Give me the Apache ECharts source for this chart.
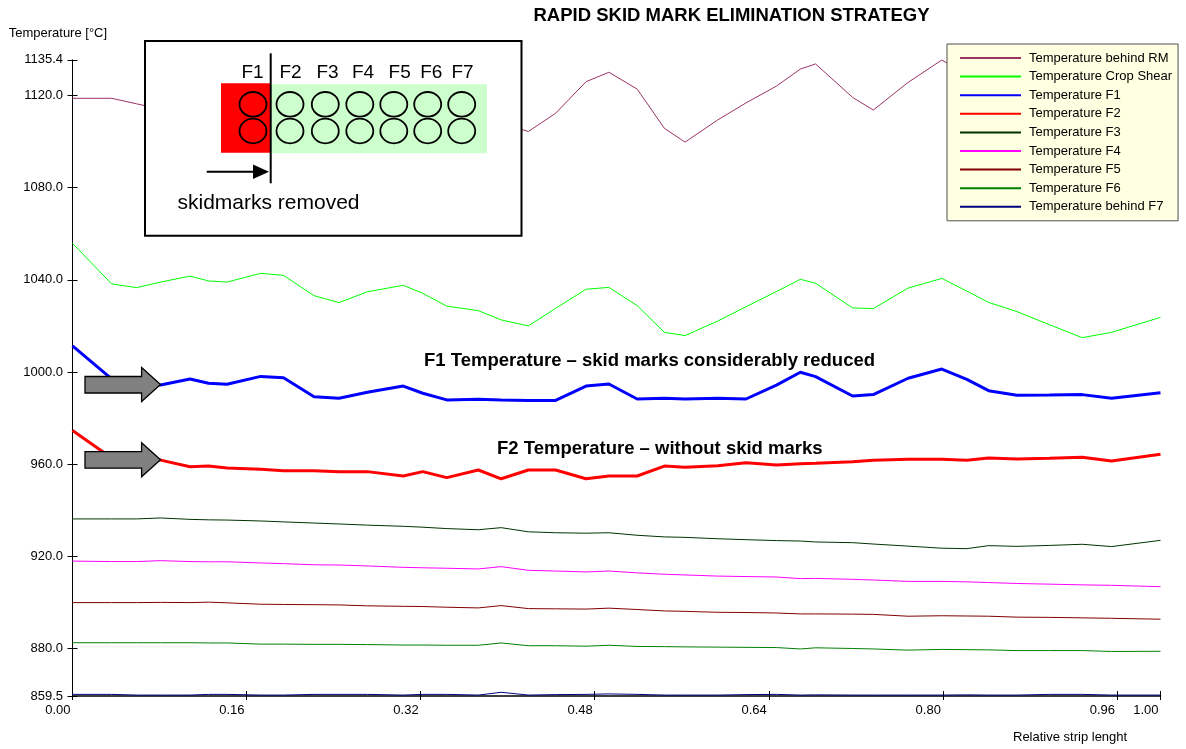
<!DOCTYPE html>
<html>
<head>
<meta charset="utf-8">
<script src="https://cdn.jsdelivr.net/npm/echarts@6/dist/echarts.min.js"></script>
<style>
  html, body { margin: 0; padding: 0; background: #ffffff; }
  #chart { width: 1186px; height: 749px; }
</style>
</head>
<body>
<div id="chart"></div>
<script>
// Relative position along the strip for every measurement sample
const stripPos = [0.000, 0.036, 0.059, 0.081, 0.108, 0.125, 0.142, 0.173, 0.194, 0.222,
                  0.245, 0.271, 0.304, 0.322, 0.344, 0.373, 0.394, 0.419, 0.444, 0.472,
                  0.493, 0.519, 0.544, 0.563, 0.593, 0.619, 0.647, 0.669, 0.683, 0.717,
                  0.736, 0.768, 0.799, 0.822, 0.842, 0.868, 0.898, 0.928, 0.955, 1.000];

// Temperatures in °C at each sample
const tempBehindRM = [1118.7, 1118.7, 1116.3, 1114.0, 1112.5, 1115.0, 1118.0, 1121.0, 1119.0, 1114.0,
                      1110.0, 1113.0, 1117.0, 1115.0, 1110.0, 1106.0, 1108.0, 1104.3, 1112.2, 1125.9,
                      1130.0, 1122.7, 1105.7, 1099.7, 1109.3, 1116.7, 1124.0, 1131.4, 1133.6, 1119.1,
                      1113.6, 1125.6, 1135.3, 1129.0, 1124.0, 1118.0, 1126.0, 1121.0, 1116.0, 1123.0];
const tempCropShear = [1055.8, 1038.2, 1036.6, 1039.0, 1041.6, 1039.5, 1039.0, 1042.8, 1041.9, 1033.1,
                       1030.1, 1034.8, 1037.6, 1034.1, 1028.6, 1026.6, 1022.6, 1020.0, 1027.6, 1035.9,
                       1036.7, 1028.8, 1017.2, 1015.8, 1022.1, 1028.3, 1034.9, 1040.2, 1038.5, 1027.8,
                       1027.5, 1036.4, 1040.6, 1035.1, 1030.2, 1026.2, 1020.5, 1014.9, 1017.2, 1023.7];
const tempF1 = [1011.3, 997.0, 995.2, 994.4, 997.0, 995.1, 994.7, 998.1, 997.5, 989.3,
                988.6, 991.2, 993.9, 990.8, 987.9, 988.2, 987.9, 987.7, 987.7, 993.9,
                994.8, 988.3, 988.6, 988.3, 988.6, 988.3, 994.3, 999.9, 998.0, 989.6,
                990.2, 997.3, 1001.3, 996.8, 991.9, 989.9, 990.0, 990.2, 988.6, 991.0];
const tempF2 = [974.6, 962.7, 962.3, 961.8, 958.9, 959.2, 958.4, 957.8, 957.2, 957.2,
                956.8, 956.8, 954.9, 956.8, 954.2, 957.5, 953.7, 957.5, 957.5, 953.7,
                954.9, 954.9, 959.2, 958.7, 959.4, 960.7, 959.7, 960.2, 960.4, 961.1,
                961.7, 962.2, 962.2, 961.7, 962.7, 962.3, 962.6, 963.0, 961.4, 964.3];
const tempF3 = [936.3, 936.3, 936.3, 936.7, 936.1, 935.9, 935.8, 935.4, 935.0, 934.5,
                934.1, 933.6, 933.1, 932.7, 932.1, 931.6, 932.5, 930.7, 930.3, 930.1,
                930.3, 929.2, 928.5, 928.3, 927.7, 927.3, 926.9, 926.7, 926.3, 926.0,
                925.4, 924.5, 923.6, 923.4, 924.7, 924.4, 924.8, 925.3, 924.3, 927.0];
const tempF4 = [918.0, 917.8, 917.8, 918.2, 917.8, 917.7, 917.7, 917.2, 916.9, 916.4,
                916.3, 915.9, 915.3, 915.1, 914.9, 914.6, 915.6, 914.0, 913.7, 913.3,
                913.7, 912.9, 912.3, 912.0, 911.5, 911.3, 911.1, 910.4, 910.5, 910.1,
                909.8, 909.2, 909.2, 909.0, 908.7, 908.3, 908.0, 907.7, 907.5, 906.9];
const tempF5 = [900.0, 900.0, 900.0, 900.1, 900.0, 900.2, 899.9, 899.3, 899.2, 899.1,
                899.0, 898.6, 898.4, 898.3, 898.0, 897.7, 898.7, 897.4, 897.3, 897.2,
                897.6, 897.0, 896.4, 896.2, 895.8, 895.7, 895.5, 895.1, 895.1, 895.0,
                894.9, 894.1, 894.3, 894.2, 894.1, 893.7, 893.6, 893.4, 893.2, 892.8];
const tempF6 = [882.6, 882.6, 882.6, 882.6, 882.6, 882.5, 882.5, 882.0, 882.0, 881.9,
                881.9, 881.8, 881.6, 881.6, 881.5, 881.5, 882.5, 881.3, 881.3, 881.1,
                881.5, 881.0, 880.9, 880.8, 880.7, 880.6, 880.5, 879.9, 880.4, 880.1,
                879.9, 879.4, 879.7, 879.6, 879.5, 879.2, 879.2, 879.2, 878.8, 878.9];
const tempBehindF7 = [860.2, 860.2, 859.9, 859.9, 859.9, 860.2, 860.2, 859.9, 859.9, 860.2,
                      860.2, 860.2, 859.9, 860.2, 860.2, 859.9, 861.1, 859.9, 860.1, 860.2,
                      860.4, 860.2, 859.9, 859.9, 859.9, 860.1, 860.2, 859.9, 860.0, 859.9,
                      859.9, 859.9, 859.9, 860.0, 859.9, 859.9, 860.2, 860.2, 859.9, 859.9];

// Axis ticks
const xTicks = [0.00, 0.16, 0.32, 0.48, 0.64, 0.80, 0.96, 1.00];
const yTicks = [859.5, 880.0, 920.0, 960.0, 1000.0, 1040.0, 1080.0, 1120.0, 1135.4];
const yMin = 859.5, yMax = 1135.4;

// Mill stands shown in the schematic
const standNames = ['F1', 'F2', 'F3', 'F4', 'F5', 'F6', 'F7'];

const FONT = '"Liberation Sans", Arial, Helvetica, sans-serif';

const seriesDefs = [
  { name: 'Temperature behind RM',  data: tempBehindRM,  color: '#993366', width: 1 },
  { name: 'Temperature Crop Shear', data: tempCropShear, color: '#00FF00', width: 1 },
  { name: 'Temperature F1',         data: tempF1,        color: '#0000FF', width: 3 },
  { name: 'Temperature F2',         data: tempF2,        color: '#FF0000', width: 3 },
  { name: 'Temperature F3',         data: tempF3,        color: '#003300', width: 1 },
  { name: 'Temperature F4',         data: tempF4,        color: '#FF00FF', width: 1 },
  { name: 'Temperature F5',         data: tempF5,        color: '#800000', width: 1 },
  { name: 'Temperature F6',         data: tempF6,        color: '#008000', width: 1 },
  { name: 'Temperature behind F7',  data: tempBehindF7,  color: '#000080', width: 1 }
];

const series = seriesDefs.map(d => ({
  name: d.name,
  type: 'line',
  xAxisIndex: 0,
  yAxisIndex: 0,
  data: stripPos.map((x, i) => [x, d.data[i]]),
  showSymbol: false,
  symbol: 'none',
  smooth: false,
  silent: true,
  color: d.color,
  lineStyle: { color: d.color, width: d.width },
  itemStyle: { color: d.color },
  z: d.width > 1 ? 3 : 2
}));

const tickLine = { color: '#000', width: 1 };

function makeXAxis(primary) {
  return {
    type: 'value',
    min: 0, max: 1,
    position: 'bottom',
    axisLine: { show: primary, onZero: false, lineStyle: { color: '#000', width: 1.5 } },
    axisTick: { show: true, inside: !primary, length: primary ? 4 : 5, customValues: xTicks, lineStyle: tickLine },
    axisLabel: {
      show: primary, customValues: xTicks,
      formatter: v => v.toFixed(2),
      align: 'right', padding: [0, 2, 0, 0], margin: 8,
      fontFamily: FONT, fontSize: 13, color: '#000'
    },
    splitLine: { show: false }
  };
}
function makeYAxis(primary) {
  return {
    type: 'value',
    min: yMin, max: yMax,
    position: 'left',
    axisLine: { show: primary, onZero: false, lineStyle: { color: '#000', width: 1 } },
    axisTick: { show: true, inside: !primary, length: 5, customValues: yTicks, lineStyle: tickLine },
    axisLabel: {
      show: primary, customValues: yTicks,
      formatter: v => v.toFixed(1),
      margin: 9.5, padding: [0, 0, 3, 0],
      fontFamily: FONT, fontSize: 13, color: '#000'
    },
    splitLine: { show: false }
  };
}

// Schematic of the finishing stands
const standCx = [253, 290, 325.3, 359.8, 393.8, 427.7, 461.7];
const labelCx = [252.5, 290.5, 327.5, 363, 399.7, 431.3, 462.5];
const schematic = [
  { type: 'rect', shape: { x: 145, y: 41, width: 376.5, height: 194.7 },
    style: { fill: '#ffffff', stroke: '#000', lineWidth: 2 } },
  { type: 'rect', shape: { x: 221, y: 83.3, width: 49.5, height: 69.4 }, style: { fill: '#FF0000' } },
  { type: 'rect', shape: { x: 270.5, y: 84.3, width: 216.5, height: 69 }, style: { fill: '#CCFFCC' } }
];
standNames.forEach((name, i) => {
  schematic.push({ type: 'text', x: labelCx[i], y: 72.5,
    style: { text: name, fontFamily: FONT, fontSize: 19, fill: '#000',
             align: 'center', verticalAlign: 'middle', textAlign: 'center', textVerticalAlign: 'middle' } });
  [104.3, 131].forEach(cy => {
    schematic.push({ type: 'ellipse', shape: { cx: standCx[i], cy: cy, rx: 13.5, ry: 12.3 },
      style: { fill: 'none', stroke: '#000', lineWidth: 1.8 } });
  });
});
schematic.push(
  { type: 'line', shape: { x1: 270.7, y1: 53.3, x2: 270.7, y2: 183.3 }, style: { stroke: '#000', lineWidth: 2 } },
  { type: 'line', shape: { x1: 206.7, y1: 171.7, x2: 255, y2: 171.7 }, style: { stroke: '#000', lineWidth: 2 } },
  { type: 'polygon', shape: { points: [[253, 164.5], [269, 171.7], [253, 179]] }, style: { fill: '#000' } },
  { type: 'text', x: 177.5, y: 203.6,
    style: { text: 'skidmarks removed', fontFamily: FONT, fontSize: 21, fill: '#000',
             align: 'left', verticalAlign: 'middle', textAlign: 'left', textVerticalAlign: 'middle' } }
);

function blockArrow(cy) {
  return { type: 'polygon',
    shape: { points: [[85, cy - 8], [141.6, cy - 8], [141.6, cy - 17], [160.5, cy], [141.6, cy + 17], [141.6, cy + 8.5], [85, cy + 8.5]] },
    style: { fill: '#808080', stroke: '#000', lineWidth: 1.3 } };
}
function label(text, x, y, size, weight, align) {
  return { type: 'text', x: x, y: y,
    style: { text: text, fontFamily: FONT, fontSize: size, fontWeight: weight, fill: '#000',
             align: align, verticalAlign: 'middle', textAlign: align, textVerticalAlign: 'middle' } };
}

// Overlay elements are stacked above the plotted lines
const overlay = schematic.concat([
  blockArrow(384.5),
  blockArrow(459.7),
  label('F1 Temperature \u2013 skid marks considerably reduced', 424, 361, 18.5, 'bold', 'left'),
  label('F2 Temperature \u2013 without skid marks', 497, 449, 18.5, 'bold', 'left'),
  label('RAPID SKID MARK ELIMINATION STRATEGY', 731.5, 16, 18.5, 'bold', 'center'),
  label('Temperature [\u00B0C]', 8.7, 33.3, 13, 'normal', 'left'),
  label('Relative strip lenght', 1013, 737.3, 13, 'normal', 'left')
]).map((el, i) => Object.assign(el, { z: 100 + i, silent: true }));

const chart = echarts.init(document.getElementById('chart'), null, { renderer: 'canvas' });
chart.setOption({
  animation: false,
  backgroundColor: '#ffffff',
  grid: { left: 72.5, right: 25.5, top: 59.8, bottom: 53, containLabel: false },
  xAxis: [makeXAxis(true), makeXAxis(false)],
  yAxis: [makeYAxis(true), makeYAxis(false)],
  legend: {
    orient: 'vertical',
    left: 947, top: 44,
    padding: [7, 6, 7, 13],
    itemGap: 4.6,
    itemWidth: 61, itemHeight: 2,
    icon: 'rect',
    selectedMode: false,
    backgroundColor: '#FFFFE1',
    borderColor: '#505050', borderWidth: 1,
    textStyle: { fontFamily: FONT, fontSize: 13, color: '#000', lineHeight: 14, padding: [0, 0, 0, 3] },
    data: seriesDefs.map(d => d.name)
  },
  series: series,
  graphic: overlay
});
</script>
</body>
</html>
